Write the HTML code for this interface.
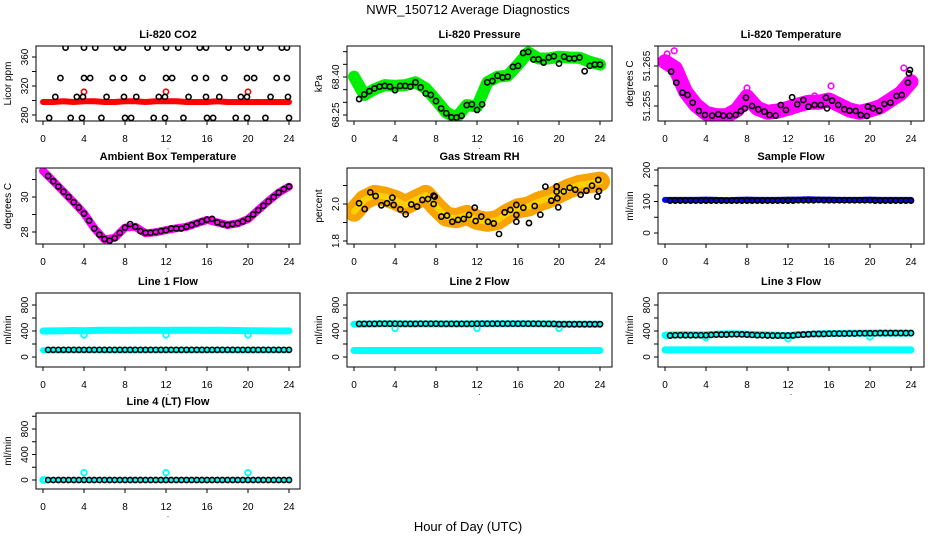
<!DOCTYPE html>
<html><head><meta charset="utf-8"><title>NWR_150712 Average Diagnostics</title>
<style>
html,body{margin:0;padding:0;background:#fff;}
svg{display:block;font-family:"Liberation Sans",Arial,sans-serif;}
</style></head>
<body>
<svg id="chart" width="936" height="540" viewBox="0 0 936 540" xmlns="http://www.w3.org/2000/svg">
<rect x="0" y="0" width="936" height="540" fill="#fff"/>
<text x="468" y="14" font-size="13" text-anchor="middle">NWR_150712  Average Diagnostics</text>
<text x="468" y="531" font-size="13" text-anchor="middle">Hour of Day (UTC)</text>
</svg>
<script>
// ---------- data ----------
const HOURS=[0,1,2,3,4,5,6,7,8,9,10,11,12,13,14,15,16,17,18,19,20,21,22,23,24];
const HALF=[0.5,1,1.5,2,2.5,3,3.5,4,4.5,5,5.5,6,6.5,7,7.5,8,8.5,9,9.5,10,10.5,11,11.5,12,12.5,13,13.5,14,14.5,15,15.5,16,16.5,17,17.5,18,18.5,19,19.5,20,20.5,21,21.5,22,22.5,23,23.5,24];
const XTICKS=[0,4,8,12,16,20,24];

// CO2
const co2Band=[298,298,299,298,299,299,298,298,299,299,298,299,299,299,298,298,298,299,298,298,298,298,298,298,298];
const co2RedX=[4,12,20];
const co2RedV=[312,312,312];
const co2AX=[2.2,4.0,5.1,7.2,7.8,10.2,12.0,13.2,15.3,15.9,18.1,19.9,21.2,23.3,23.8];
const co2AV=[373,373,373,373,373,373,373,373,373,373,373,373,373,373,373];
const co2BX=[1.7,4.0,4.6,6.8,7.9,9.7,12.0,12.6,14.8,15.9,17.7,19.9,20.6,22.8,23.8];
const co2BV=[331,331,331,331,331,331,331,331,331,331,331,331,331,331,331];
const co2CX=[1.2,3.3,3.9,6.2,7.9,9.1,11.3,11.9,14.2,15.9,17.2,19.3,19.9,22.2,23.9];
const co2CV=[305,305,305,305,305,305,305,305,305,305,305,305,305,305,305];
const co2DX=[0.6,2.7,3.8,5.7,8.0,8.6,10.8,11.9,13.7,16.0,16.6,18.8,19.9,21.7,24.0];
const co2DV=[276,276,276,276,276,276,276,276,276,276,276,276,276,276,276];

// Pressure
const presBand=[68.401,68.329,68.352,68.368,68.365,68.368,68.379,68.355,68.309,68.260,68.240,68.289,68.283,68.379,68.401,68.405,68.449,68.497,68.473,68.473,68.480,68.477,68.476,68.460,68.449];
const presBlack=[68.313,68.331,68.344,68.355,68.362,68.365,68.362,68.348,68.365,68.365,68.362,68.379,68.359,68.335,68.329,68.305,68.276,68.257,68.241,68.240,68.247,68.289,68.292,68.270,68.292,68.379,68.384,68.405,68.398,68.401,68.440,68.444,68.495,68.499,68.469,68.470,68.457,68.477,68.482,68.453,68.480,68.473,68.473,68.477,68.423,68.444,68.449,68.449];

// Li-820 temperature
const tempBand=[51.26608,51.26442,51.25858,51.25525,51.25317,51.25258,51.25258,51.25400,51.25733,51.25442,51.25342,51.25375,51.25442,51.25525,51.25592,51.25592,51.25650,51.25525,51.25400,51.25342,51.25400,51.25483,51.25650,51.25817,51.26108];
const tempBlackX=[0.6,1.1,1.7,2.2,2.7,3.3,3.9,4.6,5.2,5.7,6.3,6.9,7.4,7.8,7.9,8.5,9.1,9.7,10.2,10.8,11.3,11.8,12.4,12.9,13.5,14.0,14.6,15.2,15.7,15.8,16.3,16.9,17.5,18.0,18.6,19.1,19.7,19.8,20.3,20.9,21.4,22.0,22.6,23.1,23.7,23.8,23.9];
const tempBlackV=[51.26358,51.26083,51.25833,51.25775,51.25583,51.25375,51.25275,51.25258,51.25292,51.25258,51.25258,51.25275,51.25375,51.25442,51.25708,51.25500,51.25417,51.25358,51.25275,51.25258,51.25525,51.25400,51.25717,51.25542,51.25650,51.25483,51.25525,51.25525,51.25708,51.25442,51.25633,51.25525,51.25417,51.25383,51.25375,51.25275,51.25250,51.25483,51.25442,51.25383,51.25550,51.25583,51.25750,51.25775,51.26083,51.26317,51.26400];
const tempOutX=[0.2,0.9,14.6,16.2,23.3,8.0];
const tempOutV=[51.2680,51.2688,51.2575,51.2600,51.2645,51.2595];

// Ambient box temperature
const ambBand=[31.49,30.91,30.30,29.70,29.07,28.21,27.58,27.67,28.25,28.30,27.93,27.98,28.11,28.21,28.30,28.50,28.69,28.55,28.40,28.50,28.74,29.26,29.77,30.25,30.59];
const ambBlack=[31.2,30.9,30.6,30.3,30.0,29.7,29.4,29.05,28.65,28.2,27.85,27.6,27.5,27.65,27.95,28.25,28.45,28.3,28.05,27.95,27.95,28.0,28.05,28.1,28.2,28.2,28.2,28.3,28.4,28.5,28.6,28.7,28.75,28.55,28.45,28.4,28.45,28.5,28.6,28.75,29.0,29.25,29.5,29.75,30.0,30.25,30.45,30.6];

// Gas stream RH
const rhBand=[1.959,2.022,2.049,2.040,2.022,1.995,2.022,2.049,1.986,1.932,1.923,1.941,1.914,1.904,1.914,1.950,1.977,1.986,2.013,2.031,2.058,2.085,2.103,2.112,2.121];
const rhBlackX=[0.49,1.04,1.59,2.11,2.67,3.22,3.74,3.87,4.52,5.04,5.59,6.15,6.67,7.22,7.77,7.87,7.77,8.52,9.07,9.59,10.15,10.7,11.22,11.78,11.87,12.42,13.07,13.63,14.15,14.7,15.25,15.84,15.84,15.84,16.52,17.07,17.63,18.18,18.67,19.25,19.77,19.77,19.84,19.93,20.46,21.04,21.59,22.11,22.67,23.22,23.74,23.83,23.9];
const rhBlackV=[2.004,1.973,2.063,2.043,1.993,2.004,2.034,1.995,1.971,1.944,1.998,1.986,2.022,2.027,2.045,2.040,2.000,1.932,1.937,1.904,1.914,1.919,1.941,1.980,1.908,1.932,1.904,1.895,1.838,1.955,1.968,1.995,1.941,1.904,1.980,1.897,1.989,1.942,2.094,2.018,2.095,2.067,2.031,1.982,2.068,2.088,2.077,2.050,2.072,2.099,2.040,2.130,2.070];

// Sample flow
const sampBand=[105,105,105,105,106,105,104,105,106,105,105,105,106,106,107,106,106,105,105,105,106,105,105,105,105];
const sampBlack=[103,103,103,103,103,103,103,103,103,103,103,103,103,103,103,103,103,103,103,103,103,103,103,103,103,104,104,104,104,105,104,104,104,104,104,104,104,104,104,104,103,103,103,103,103,103,103,103];

// Line 1 flow
const l1Hi=[400,402,405,408,405,410,412,412,410,412,412,412,410,412,412,412,410,412,410,408,405,405,402,400,402];
const l1Lo=[105,105,105,105,105,105,105,105,105,105,105,105,105,105,105,105,105,105,105,105,105,105,105,105,105];
const l1DipX=[4,12,20];
const l1DipV=[340,340,340];
const l1Black=[110,110,110,110,110,110,110,110,110,110,110,110,110,110,110,110,110,110,110,110,110,110,110,110,110,110,110,110,110,110,110,110,110,110,110,110,110,110,110,110,110,110,110,110,110,110,110,110];

// Line 2 flow
const l2Hi=[505,508,510,512,512,510,510,510,510,510,510,510,512,512,512,512,512,512,510,510,505,505,505,505,505];
const l2Lo=[100,100,100,100,100,100,100,100,100,100,100,100,100,100,100,100,100,100,100,100,100,100,100,100,100];
const l2DipX=[4,12,20];
const l2DipV=[440,440,440];
const l2Black=[510,510,510,510,512,512,512,512,510,510,510,510,512,512,512,512,510,510,510,510,510,510,510,512,512,512,512,512,512,512,512,512,512,512,512,512,510,510,510,505,505,505,505,505,505,505,505,505];

// Line 3 flow
const l3Hi=[335,340,345,340,340,350,355,355,350,345,340,335,330,345,350,355,360,362,365,365,368,368,368,368,368];
const l3Lo=[110,110,110,110,110,110,110,110,110,110,110,110,110,110,110,110,110,110,110,110,110,110,110,110,110];
const l3DipX=[0.1,4,12,20];
const l3DipV=[330,300,280,310];
const l3Black=[330,335,335,335,335,335,335,335,340,345,345,345,350,350,348,345,340,335,335,332,330,330,330,330,332,340,345,350,355,355,355,358,360,360,360,362,362,365,365,365,365,368,368,368,368,368,368,368];

// Line 4 flow
const l4CyanX=[0,0.1,0.2,4,12,20];
const l4CyanV=[0,0,0,115,115,115];
const l4Black=[0,0,0,0,0,0,0,0,0,0,0,0,0,0,0,0,0,0,0,0,0,0,0,0,0,0,0,0,0,0,0,0,0,0,0,0,0,0,0,0,0,0,0,0,0,0,0,0];

// ---------- drawing ----------
const svg=document.getElementById('chart');
const NS='http://www.w3.org/2000/svg';
function mk(tag,attrs,parent){const e=document.createElementNS(NS,tag);for(const k in attrs)e.setAttribute(k,attrs[k]);(parent||svg).appendChild(e);return e;}

const COLS=[36,347,658], COLR=[300,612,924];
const ROWS=[[46,121],[168,244],[293,367],[413,489]];
let clipN=0;

function makePanel(col,row,title,ylab,v0,p0,v1,p1,ticks,labels,slug){
  const L=COLS[col],R=COLR[col],T=ROWS[row][0],B=ROWS[row][1];
  const g=mk('g',{});
  
  
  const xs=h=>L+7+h*10.25;
  const ys=v=>p0+(v-v0)*(p1-p0)/(v1-v0);
  const id='c'+(clipN++);
  const cp=mk('clipPath',{id:id},g);mk('rect',{x:L,y:T,width:R-L,height:B-T},cp);
  const plot=mk('g',{'clip-path':'url(#'+id+')'},g);
  
  
  const t=mk('text',{x:(L+R)/2,y:T-8,'font-size':11,'font-weight':'bold','text-anchor':'middle'},g);
  t.textContent=title;
  
  
  const yl=mk('text',{x:0,y:0,'font-size':10,'text-anchor':'middle',transform:'translate('+(L-25)+','+((T+B)/2)+') rotate(-90)'},g);
  yl.textContent=ylab;
  
  
  const bx=mk('rect',{x:L,y:T,width:R-L,height:B-T,fill:'none',stroke:'#000','stroke-width':1},g);
  
  
  const xa=mk('g',{},g);
  
  
  mk('line',{x1:xs(0),x2:xs(24),y1:B,y2:B,stroke:'#000'},xa);
  XTICKS.forEach(h=>{
    mk('line',{x1:xs(h),x2:xs(h),y1:B,y2:B+4,stroke:'#000'},xa);
    const tt=mk('text',{x:xs(h),y:B+21,'font-size':10,'text-anchor':'middle'},xa);
    tt.textContent=h;
    
    
  });
  const dot=mk('text',{x:(L+R)/2,y:B+28,'font-size':8,'text-anchor':'middle'},xa);dot.textContent='.';
  const ya=mk('g',{},g);
  
  
  const inT=ticks.filter(v=>ys(v)>=T-0.6&&ys(v)<=B+0.6);
  if(inT.length) mk('line',{x1:L,x2:L,y1:ys(inT[0]),y2:ys(inT[inT.length-1]),stroke:'#000'},ya);
  inT.forEach(v=>{
    mk('line',{x1:L-4,x2:L,y1:ys(v),y2:ys(v),stroke:'#000'},ya);
  });
  labels.forEach(s=>{
    const v=parseFloat(s);
    const tt=mk('text',{x:0,y:0,'font-size':10,'text-anchor':'middle',transform:'translate('+(L-8)+','+ys(v)+') rotate(-90)'},ya);
    tt.textContent=String(s);
    
    
  });
  return {plot,xs,ys,slug};
}
function band(P,xv,vals,color,w,name){
  const pts=xv.map((h,i)=>P.xs(h).toFixed(1)+','+P.ys(vals[i]).toFixed(1)).join(' ');
  const pl=mk('polyline',{points:pts,fill:'none',stroke:color,'stroke-width':w,'stroke-linejoin':'round','stroke-linecap':'round'},P.plot);
  
  
}
function pts(P,xv,vals,color,r,sw,name){
  const g=mk('g',{},P.plot);
  
  
  xv.forEach((h,i)=>{
    const c=mk('circle',{cx:P.xs(h),cy:P.ys(vals[i]),r:r,fill:'none',stroke:color,'stroke-width':sw},g);
    
    
  });
}
function range(a,b,s){const o=[];for(let v=a;v<=b+1e-9;v+=s)o.push(+v.toFixed(6));return o;}

let P=makePanel(0,0,'Li-820 CO2','Licor ppm',280,115,360,57,range(280,380,20),['280','320','360'],'co2');
band(P,HOURS,co2Band,'#ff0000',6,'co2-red-band');
pts(P,co2RedX,co2RedV,'#ff0000',2.6,1.6,'co2-red-outliers');
pts(P,co2AX,co2AV,'#000',2.6,1.6,'co2-black-a');
pts(P,co2BX,co2BV,'#000',2.6,1.6,'co2-black-b');
pts(P,co2CX,co2CV,'#000',2.6,1.6,'co2-black-c');
pts(P,co2DX,co2DV,'#000',2.6,1.6,'co2-black-d');

P=makePanel(1,0,'Li-820 Pressure','kPa',68.25,115,68.40,77,range(68.25,68.5,0.05),['68.25','68.40'],'pressure');
band(P,HOURS,presBand,'#00ee00',12,'pressure-green-band');
pts(P,HALF,presBlack,'#000',2.6,1.6,'pressure-black');

P=makePanel(2,0,'Li-820 Temperature','degrees C',51.255,106,51.265,66,range(51.25,51.27,0.005),['51.255','51.265'],'li820-temp');
band(P,HOURS,tempBand,'#ff00ff',15,'temp-magenta-band');
pts(P,tempOutX,tempOutV,'#ff00ff',2.8,1.6,'temp-magenta-outliers');
pts(P,tempBlackX,tempBlackV,'#000',2.6,1.6,'temp-black');

P=makePanel(0,1,'Ambient Box Temperature','degrees C',28,232,30,197,[27,28,29,30,31,32],['28','30'],'ambient');
band(P,HOURS,ambBand,'#ff00ff',8,'ambient-magenta-band');
pts(P,HALF,ambBlack,'#000',2.6,1.6,'ambient-black');

P=makePanel(1,1,'Gas Stream RH','percent',1.8,241,2.0,204,[1.8,1.9,2.0,2.1],['1.8','2.0'],'rh');
band(P,HOURS,rhBand,'#f7a400',20,'rh-orange-band');
band(P,HOURS,rhBand,'#ffd000',6,'rh-yellow-core');
pts(P,rhBlackX,rhBlackV,'#000',2.6,1.6,'rh-black');

P=makePanel(2,1,'Sample Flow','ml/min',0,233,200,170,[0,50,100,150,200],['0','100','200'],'sample-flow');
band(P,HOURS,sampBand,'#0000ff',6,'sample-blue-band');
pts(P,HALF,sampBlack,'#000',2.6,1.6,'sample-black');

P=makePanel(0,2,'Line 1 Flow','ml/min',0,357,400,331,range(-200,1000,200),['0','400','800'],'line1');
band(P,HOURS,l1Hi,'#00ffff',7,'line1-cyan-high');
band(P,HOURS,l1Lo,'#00ffff',6,'line1-cyan-low');
pts(P,l1DipX,l1DipV,'#00ffff',2.8,1.8,'line1-cyan-dips');
pts(P,HALF,l1Black,'#000',2.6,1.6,'line1-black');

P=makePanel(1,2,'Line 2 Flow','ml/min',0,357,400,331,range(-200,1000,200),['0','400','800'],'line2');
band(P,HOURS,l2Hi,'#00ffff',7,'line2-cyan-high');
band(P,HOURS,l2Lo,'#00ffff',7,'line2-cyan-low');
pts(P,l2DipX,l2DipV,'#00ffff',2.8,1.8,'line2-cyan-dips');
pts(P,HALF,l2Black,'#000',2.6,1.6,'line2-black');

P=makePanel(2,2,'Line 3 Flow','ml/min',0,357,400,331,range(-200,1000,200),['0','400','800'],'line3');
band(P,HOURS,l3Hi,'#00ffff',7,'line3-cyan-high');
band(P,HOURS,l3Lo,'#00ffff',7,'line3-cyan-low');
pts(P,l3DipX,l3DipV,'#00ffff',2.8,1.8,'line3-cyan-dips');
pts(P,HALF,l3Black,'#000',2.6,1.6,'line3-black');

P=makePanel(0,3,'Line 4 (LT) Flow','ml/min',0,480,400,454.5,range(-200,1000,200),['0','400','800'],'line4');
band(P,HALF,l4Black,'#00ffff',4,'line4-cyan-base');
pts(P,l4CyanX,l4CyanV,'#00ffff',2.8,1.8,'line4-cyan');
pts(P,HALF,l4Black,'#000',2.6,1.6,'line4-black');
</script>
</body></html>
